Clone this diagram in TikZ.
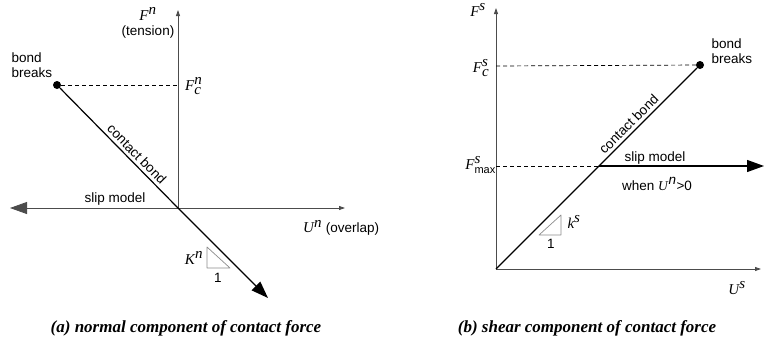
\documentclass[tikz,border=0pt]{standalone}
\usepackage{fontspec}
\setmainfont{Liberation Serif}
\setsansfont{Liberation Sans}
\usetikzlibrary{arrows.meta,positioning}
\tikzset{
  bighead/.tip={Triangle[length=17pt,width=12pt]},
  axis/.style={draw=black!70,line width=0.8pt},
  bond/.style={draw=black,line width=1.2pt},
  guide/.style={draw=black,line width=0.7pt,dash pattern=on 4pt off 3pt},
  slope/.style={draw=black!45,line width=0.7pt},
  dot/.style={circle,fill=black,inner sep=0pt,minimum size=8pt},
  sym/.style={font=\rmfamily\fontsize{15}{17}\selectfont,inner sep=1pt},
  caption/.style={font=\rmfamily\bfseries\itshape\fontsize{17}{19}\selectfont}
}
\begin{document}
\begin{tikzpicture}[x=1pt,y=-1pt,font=\sffamily\fontsize{13.5}{14.5}\selectfont, line join=round, >={Triangle[length=6pt,width=4pt]}]
\useasboundingbox (0,0) rectangle (764,341);
% (a) normal component
\coordinate (oa) at (178,208);
\coordinate (fna) at (178,10);
\coordinate (una) at (345,208);
\coordinate (sla) at (10,208);
\coordinate (kna) at (268,298);
\coordinate (fca) at (178,85);
\node[dot] (bra) at (57,85) {};
\draw[axis,->] (oa) -- (fna);
\draw[axis,->] (oa) -- (una);
\draw[axis,-bighead] (oa) -- (sla);
\draw[guide] (bra) -- (fca);
\draw[bond,-bighead] (bra) -- node[pos=0.6,sloped,above,inner sep=3pt] {contact bond} (oa) -- (kna);
\draw[slope] (207,247) -- (207,268) -- (230,268) -- cycle;
\node[sym] (fnlbl) at (148,14) {$\textit{F}^{\textit{n}}$};
\node (tens) at (148,32) {(tension)};
\node[align=left,anchor=west] (brtxt) at (8,65) {bond\\breaks};
\node[sym,anchor=west] (fcn) at (184,86) {$\textit{F}^{\textit{n}}_{\textit{c}}$};
\node (slipa) at (115,199) {slip model};
\node[sym,anchor=west] (unlbl) at (302,228) {$\textit{U}^{\textit{n}}$ \textsf{\fontsize{13.5}{14.5}\selectfont(overlap)}};
\node[sym] (kn) at (194,258) {$\textit{K}^{\textit{n}}$};
\node (onea) at (218,278) {1};
\node[caption] (capa) at (186,328) {(a) normal component of contact force};
% (b) shear component
\coordinate (ob) at (496,269);
\coordinate (fsb) at (496,8);
\coordinate (usb) at (761,269);
\coordinate (fcb) at (496,66);
\coordinate (fmb) at (496,166);
\coordinate (xb) at (599,166);
\coordinate (slb) at (764,166);
\node[dot] (brb) at (700,65) {};
\draw[axis,->] (ob) -- (fsb);
\draw[axis,->] (ob) -- (usb);
\draw[guide] (fcb) -- (brb);
\draw[guide] (fmb) -- (xb);
\draw[bond,-bighead] (xb) -- (slb);
\draw[bond] (ob) -- node[pos=0.69,sloped,above,inner sep=3pt] {contact bond} (brb);
\draw[slope] (539,235) -- (561,235) -- (561,215) -- cycle;
\node[sym] (fslbl) at (478,10) {$\textit{F}^{\textit{s}}$};
\node[sym] (fcs) at (481,68) {$\textit{F}^{\textit{s}}_{\textit{c}}$};
\node[sym,anchor=east] (fms) at (497,165) {$\textit{F}^{\textit{s}}_{\mbox{\sffamily\fontsize{11}{12}\selectfont max}}$};
\node[align=left,anchor=west] (brtxtb) at (708,51) {bond\\breaks};
\node (slipb) at (655,158) {slip model};
\node (whenb) at (657,184) {when \textit{\rmfamily U}$^{\textit{n}}$>0};
\node[sym] (ks) at (574,222) {$\textit{k}^{\textit{s}}$};
\node (oneb) at (551,244) {1};
\node[sym] (uslbl) at (737,288) {$\textit{U}^{\textit{s}}$};
\node[caption] (capb) at (587,328) {(b) shear component of contact force};
\end{tikzpicture}
\end{document}
